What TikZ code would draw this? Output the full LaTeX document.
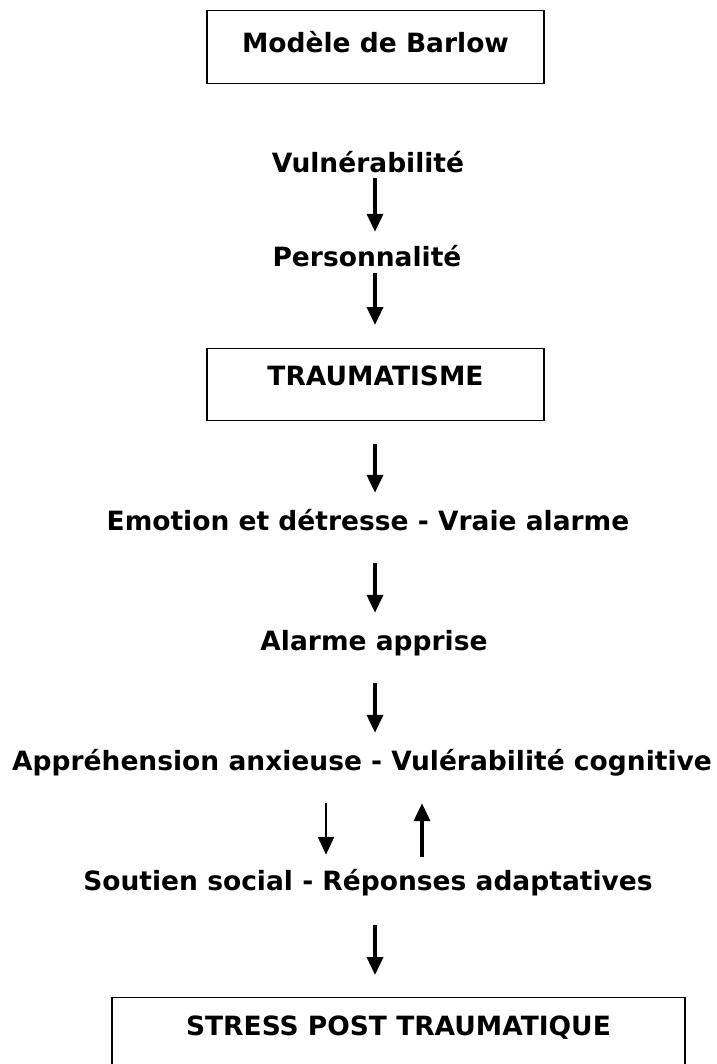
\documentclass[tikz,border=0pt]{standalone}
\usepackage{fontspec}
\setmainfont{DejaVu Sans}
\usepackage{tikz}
\usetikzlibrary{arrows.meta}

\begin{document}
\begin{tikzpicture}[x=1pt, y=-1pt,
    lbl/.style={anchor=base, inner sep=0pt, text height=20pt, text depth=6pt, font=\fontsize{26.5}{30}\selectfont\bfseries},
    box/.style={draw, line width=1.3pt, anchor=north, inner sep=0pt, font=\fontsize{26.5}{30}\selectfont\bfseries},
    arr/.style={line width=3.5pt, -{Triangle[width=16pt, length=18pt]}},
    thinarr/.style={arr, line width=2.5pt}]
      \useasboundingbox[fill=white] (0,0) rectangle (716,1064);

      % Boxes
      \node[box, minimum width=337pt, text height=42pt, text depth=31pt] (barlow) at (375.5,10) {Modèle de Barlow};
      \node[box, minimum width=337pt, text height=37pt, text depth=35pt] (trauma) at (375.5,348) {TRAUMATISME};
      \node[box, minimum width=573pt, text height=38pt, text depth=60pt] (stress) at (398.5,997) {STRESS POST TRAUMATIQUE};

      % Labels
      \node[lbl] (vul) at (368,173) {Vulnérabilité};
      \node[lbl] (pers) at (367,267) {Personnalité};
      \node[lbl] (emo) at (368,530) {Emotion et détresse - Vraie alarme};
      \node[lbl] (alarme) at (374,650) {Alarme apprise};
      \node[lbl] (appr) at (362,770) {Appréhension anxieuse - Vulérabilité cognitive};
      \node[lbl] (soutien) at (368,890) {Soutien social - Réponses adaptatives};

      % Arrow columns
      \coordinate (axis) at (375,0);
      \coordinate (down) at (326,0);
      \coordinate (up) at (422,0);

      % Arrows
      \draw[arr, shorten <=-1pt, shorten >=15pt] (vul.south -| axis) -- (pers.north -| axis);
      \draw[arr, shorten <=0pt, shorten >=23pt] (pers.south -| axis) -- (trauma.north -| axis);
      \draw[arr, shorten <=23pt, shorten >=17pt] (trauma.south -| axis) -- (emo.north -| axis);
      \draw[arr, shorten <=27pt, shorten >=17pt] (emo.south -| axis) -- (alarme.north -| axis);
      \draw[arr, shorten <=27pt, shorten >=17pt] (alarme.south -| axis) -- (appr.north -| axis);
      \draw[thinarr, shorten <=27pt, shorten >=15pt] (appr.south -| down) -- (soutien.north -| down);
      \draw[arr, shorten <=13pt, shorten >=27pt] (soutien.north -| up) -- (appr.south -| up);
      \draw[arr, shorten <=29pt, shorten >=22pt] (soutien.south -| axis) -- (stress.north -| axis);
    \end{tikzpicture}
\end{document}
